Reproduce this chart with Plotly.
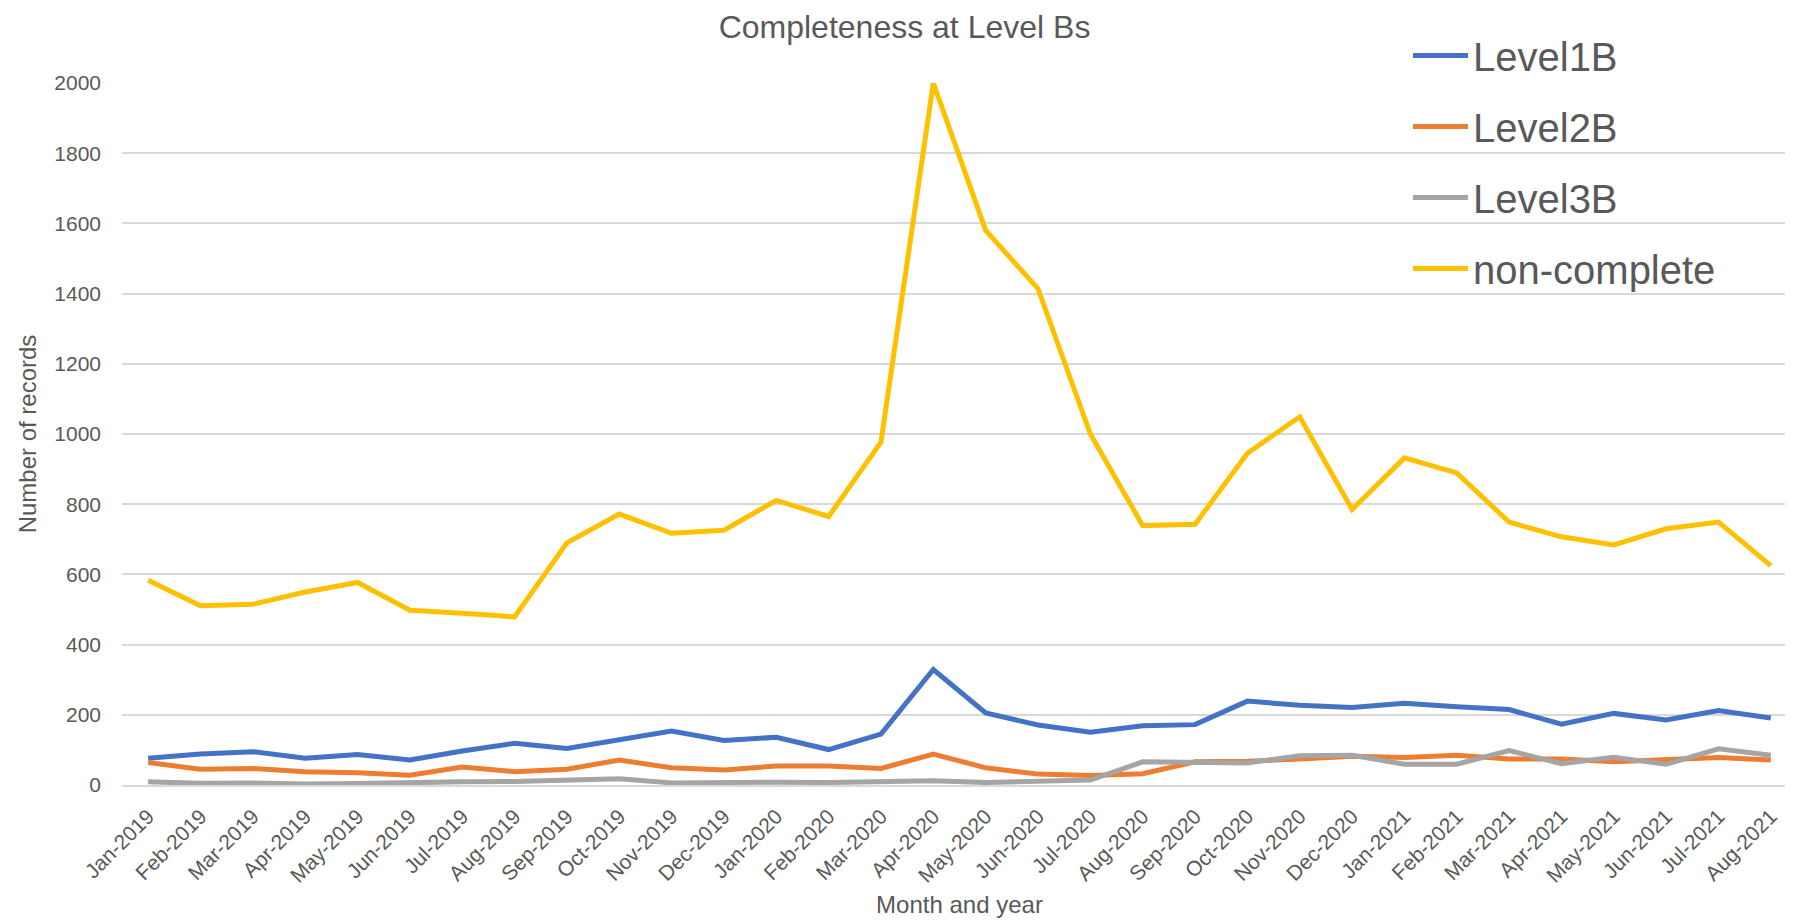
import plotly.graph_objects as go

months = ["Jan-2019", "Feb-2019", "Mar-2019", "Apr-2019", "May-2019", "Jun-2019",
          "Jul-2019", "Aug-2019", "Sep-2019", "Oct-2019", "Nov-2019", "Dec-2019",
          "Jan-2020", "Feb-2020", "Mar-2020", "Apr-2020", "May-2020", "Jun-2020",
          "Jul-2020", "Aug-2020", "Sep-2020", "Oct-2020", "Nov-2020", "Dec-2020",
          "Jan-2021", "Feb-2021", "Mar-2021", "Apr-2021", "May-2021", "Jun-2021",
          "Jul-2021", "Aug-2021"]

level1b = [76, 88, 95, 76, 87, 71, 97, 119, 104, 130, 154, 127,
           136, 101, 145, 329, 205, 171, 150, 169, 172, 239, 227, 221,
           233, 223, 215, 173, 204, 185, 212, 191]
level2b = [64, 45, 47, 38, 35, 28, 51, 38, 45, 71, 49, 43,
           54, 54, 47, 88, 49, 31, 27, 32, 66, 68, 74, 82,
           78, 85, 74, 74, 66, 71, 78, 71]
level3b = [9, 5, 6, 3, 4, 8, 9, 10, 14, 18, 6, 8,
           8, 7, 11, 12, 7, 9, 14, 66, 66, 63, 83, 85,
           59, 59, 98, 61, 79, 59, 103, 85]
noncomplete = [583, 511, 515, 550, 577, 498, 489, 479, 690, 772, 717, 726,
               811, 765, 977, 2000, 1580, 1414, 1000, 739, 743, 945, 1049, 785,
               932, 889, 749, 707, 684, 730, 749, 625]

series = [
    ("Level1B", level1b, "#4472C4"),
    ("Level2B", level2b, "#ED7D31"),
    ("Level3B", level3b, "#A5A5A5"),
    ("non-complete", noncomplete, "#FFC000"),
]

FONT = "Liberation Sans, Arial, sans-serif"
TXT = "#595959"

fig = go.Figure()
for name, vals, col in series:
    fig.add_trace(go.Scatter(
        x=months, y=vals, name=name, mode="lines", legendgroup=name,
        line=dict(color=col, width=5),
    ))

fig.update_layout(
    width=1793, height=921,
    margin=dict(l=114, r=4, t=75, b=144, autoexpand=False),
    paper_bgcolor="white", plot_bgcolor="white",
    font=dict(family=FONT, color=TXT),
    title=dict(text="Completeness at Level Bs", x=0.5, xref="container",
               y=1 - 8 / 921, yref="container", yanchor="top", xanchor="center",
               font=dict(size=32, color=TXT, family=FONT)),
    legend=dict(x=1400 / 1793, xref="container", y=1 - 15 / 921, yref="container",
                xanchor="left", yanchor="top", bgcolor="rgba(0,0,0,0)",
                font=dict(size=40, color=TXT, family=FONT),
                traceorder="grouped", tracegroupgap=16, itemwidth=55),
    showlegend=True,
)
fig.update_xaxes(
    type="category", range=[-0.5, 31.5],
    tickangle=-45, tickfont=dict(size=21, color=TXT),
    showgrid=False, showline=True, linecolor="#D9D9D9", linewidth=1.5,
    ticks="", ticklabelstandoff=9,
    title=dict(text="Month and year", font=dict(size=24, color=TXT), standoff=10),
)
fig.update_yaxes(
    range=[0, 2000], dtick=200, tickfont=dict(size=21, color=TXT),
    showgrid=True, gridcolor="#D9D9D9", gridwidth=1.5,
    zeroline=False, showline=False, ticks="", ticklabelstandoff=20,
    title=dict(text="Number of records", font=dict(size=24, color=TXT), standoff=10),
)

fig.write_html("out.html")
